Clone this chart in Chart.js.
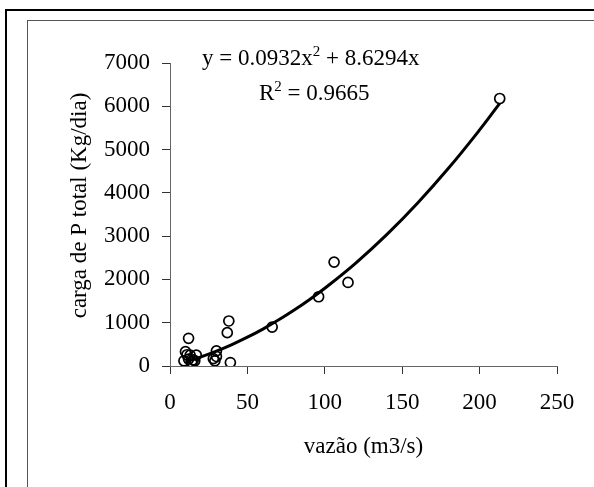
<!DOCTYPE html>
<html>
<head>
<meta charset="utf-8">
<script src="https://cdn.jsdelivr.net/npm/chart.js@4.4.1/dist/chart.umd.min.js"></script>
<style>
  html, body { margin: 0; padding: 0; background: #fff; }
  #wrap { width: 594px; height: 487px; position: relative; }
</style>
</head>
<body>
<div id="wrap"><canvas id="c" width="594" height="487"></canvas></div>
<script>
// Observed data: discharge (m3/s) vs total P load (Kg/dia)
const vazao = [9, 10, 11, 12, 12, 13, 14, 15, 16, 17, 28, 29, 30, 30, 37, 38, 39, 66, 96, 106, 115, 213];
const cargaP = [120, 330, 260, 640, 160, 250, 90, 140, 120, 250, 170, 120, 350, 220, 770, 1040, 80, 900, 1600, 2400, 1930, 6180];

// Trendline points
const trendX = [10, 20, 30, 40, 50, 60, 70, 80, 90, 100, 120, 140, 160, 180, 200, 213];
const trendY = [96, 210, 343, 494, 665, 853, 1061, 1287, 1532, 1795, 2378, 3035, 3767, 4573, 5454, 6067];

// Tick labels
const xTicks = [0, 50, 100, 150, 200, 250];
const yTicks = [0, 1000, 2000, 3000, 4000, 5000, 6000, 7000];

// Texts
const xTitle = 'vazão (m3/s)';
const yTitle = 'carga de P total (Kg/dia)';
const eqText = ['y = 0.0932x', '2', ' + 8.6294x'];
const r2Text = ['R', '2', ' = 0.9665'];

const FONT = '"Liberation Serif", "Times New Roman", serif';
const FS = 23;

const scatterPts = vazao.map((x, i) => ({ x: x, y: cargaP[i] }));
const trendPts = trendX.map((x, i) => ({ x: x, y: trendY[i] }));

const decor = {
  id: 'decor',
  beforeDraw(chart) {
    const ctx = chart.ctx;
    ctx.save();
    ctx.fillStyle = '#fff';
    ctx.fillRect(0, 0, chart.width, chart.height);
    ctx.strokeStyle = '#000';
    ctx.lineWidth = 2;
    ctx.strokeRect(6, 10, 700, 700);
    ctx.strokeStyle = '#555';
    ctx.lineWidth = 1;
    ctx.strokeRect(27.5, 20.5, 700, 700);
    ctx.restore();
  },
  afterDraw(chart) {
    const ctx = chart.ctx;
    ctx.save();
    ctx.fillStyle = '#000';
    ctx.font = FS + 'px ' + FONT;
    ctx.textAlign = 'center';
    ctx.textBaseline = 'alphabetic';
    const ca = chart.chartArea;
    ctx.fillText(xTitle, (ca.left + ca.right) / 2, 453);
    ctx.save();
    ctx.translate(86, (ca.top + ca.bottom) / 2 - 9);
    ctx.rotate(-Math.PI / 2);
    ctx.fillText(yTitle, 0, 0);
    ctx.restore();
    function drawSup(parts, x, y) {
      ctx.textAlign = 'left';
      ctx.font = FS + 'px ' + FONT;
      ctx.fillText(parts[0], x, y);
      x += ctx.measureText(parts[0]).width;
      ctx.font = '15px ' + FONT;
      ctx.fillText(parts[1], x, y - 9);
      x += ctx.measureText(parts[1]).width;
      ctx.font = FS + 'px ' + FONT;
      ctx.fillText(parts[2], x, y);
    }
    drawSup(eqText, 202, 65);
    drawSup(r2Text, 259, 100);
    ctx.restore();
  }
};

new Chart(document.getElementById('c'), {
  type: 'scatter',
  data: {
    datasets: [
      {
        label: 'trend',
        data: trendPts,
        showLine: true,
        borderColor: '#000',
        borderWidth: 3,
        pointRadius: 0,
        tension: 0.4,
        fill: false,
        order: 0
      },
      {
        label: 'obs',
        data: scatterPts,
        pointStyle: 'circle',
        pointRadius: 5,
        borderColor: '#000',
        backgroundColor: 'rgba(0,0,0,0)',
        borderWidth: 1.7,
        order: 1
      }
    ]
  },
  options: {
    responsive: false,
    animation: false,
    devicePixelRatio: 1,
    layout: { padding: { top: 63, right: 37, bottom: 0, left: 0 } },
    plugins: { legend: { display: false }, tooltip: { enabled: false } },
    scales: {
      x: {
        type: 'linear',
        min: 0, max: 250,
        afterBuildTicks(scale) { scale.ticks = xTicks.map(v => ({ value: v })); },
        afterFit(scale) { scale.height = 121; },
        grid: { drawOnChartArea: false, drawTicks: true, tickLength: 8, color: '#333' },
        border: { display: true, color: '#666', width: 1 },
        ticks: { color: '#000', padding: 15, font: { family: FONT, size: FS }, maxRotation: 0, callback: v => String(v) }
      },
      y: {
        type: 'linear',
        min: 0, max: 7000,
        afterBuildTicks(scale) { scale.ticks = yTicks.map(v => ({ value: v })); },
        afterFit(scale) { scale.width = 170; },
        grid: { drawOnChartArea: false, drawTicks: true, tickLength: 8, color: '#333' },
        border: { display: true, color: '#666', width: 1 },
        ticks: { color: '#000', padding: 12, font: { family: FONT, size: FS }, callback: v => String(v) }
      }
    }
  },
  plugins: [decor]
});
</script>
</body>
</html>
